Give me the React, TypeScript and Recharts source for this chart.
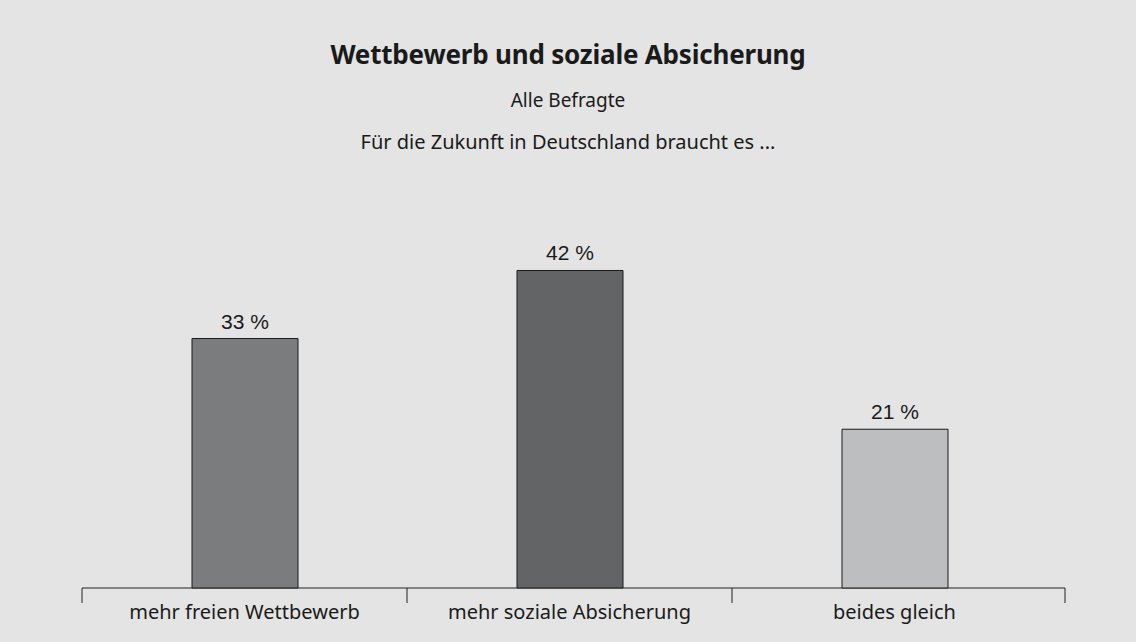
import { BarChart, Bar, XAxis, YAxis, Cell, LabelList } from 'recharts'

const categories = ['mehr freien Wettbewerb', 'mehr soziale Absicherung', 'beides gleich']
const shares = [33, 42, 21]
const barColors = ['#7b7c7e', '#636466', '#bdbebf']

const data = categories.map((name, i) => ({ name, value: shares[i] }))

const W = 1136
const H = 642
const M = { top: 210, right: 79, bottom: 24, left: 82 }
const band = (W - M.left - M.right) / categories.length

function CategoryTick(props: any) {
  const { x, y, payload, index } = props
  const left = x - band / 2
  const top = y - 8
  return (
    <g>
      <line x1={left} y1={top} x2={left} y2={top + 15} stroke="#222" strokeWidth={1} />
      {index === categories.length - 1 && (
        <line x1={left + band + 8} y1={top} x2={left + band + 8} y2={top + 15} stroke="#222" strokeWidth={1} />
      )}
      <text x={x} y={top + 31} textAnchor="middle" fontSize={20} fill="#1a1a1a" fontFamily="'Noto Sans', sans-serif">
        {payload.value}
      </text>
    </g>
  )
}

export default function App() {
  return (
    <div style={{ position: 'absolute', left: 0, top: 0, width: W, height: H, background: '#e3e4e3', fontFamily: "'Noto Sans', sans-serif", color: '#1a1a1a' }}>
      <div style={{ position: 'absolute', top: 36, width: W, textAlign: 'center', fontSize: 26, fontWeight: 700, letterSpacing: -0.2 }}>
        Wettbewerb und soziale Absicherung
      </div>
      <div style={{ position: 'absolute', top: 87, width: W, textAlign: 'center', fontSize: 19 }}>Alle Befragte</div>
      <div style={{ position: 'absolute', top: 128, width: W, textAlign: 'center', fontSize: 20 }}>
        Für die Zukunft in Deutschland braucht es ...
      </div>
      <div style={{ position: 'absolute', left: 0, top: 0 }}>
        <BarChart width={W} height={H} data={data} margin={M}>
          <XAxis dataKey="name" axisLine={false} tickLine={false} tick={<CategoryTick />} height={30} interval={0} />
          <YAxis hide domain={[0, 50]} width={0} />
          <Bar dataKey="value" barSize={106} stroke="#1a1a1a" strokeWidth={1} isAnimationActive={false}>
            {data.map((d, i) => (
              <Cell key={d.name} fill={barColors[i]} />
            ))}
            <LabelList
              dataKey="value"
              position="top"
              offset={10}
              formatter={(v: any) => `${v} %`}
              style={{ fontSize: 21, fill: '#1a1a1a', fontFamily: "'Liberation Sans', Arial, sans-serif" }}
            />
          </Bar>
          <line x1={M.left} y1={H - M.bottom - 30} x2={W - M.right + 8} y2={H - M.bottom - 30} stroke="#222" strokeWidth={1} />
        </BarChart>
      </div>
    </div>
  )
}
